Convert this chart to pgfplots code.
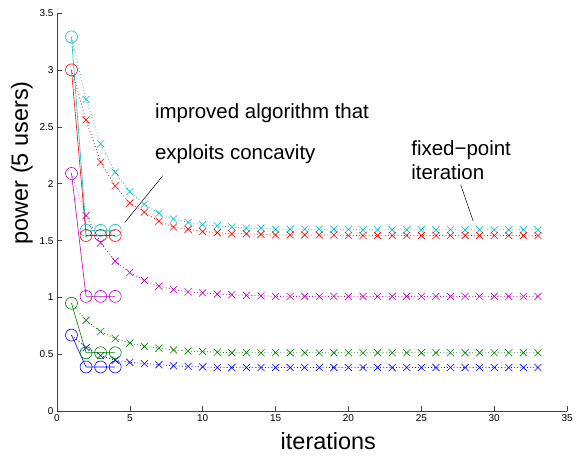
\documentclass[border=0pt]{standalone}
\usepackage{fontspec}
\setmainfont{Liberation Sans}
\usepackage{pgfplots}
\pgfplotsset{compat=1.18}
\definecolor{mcyan}{rgb}{0,0.75,0.75}
\definecolor{mred}{rgb}{1,0,0}
\definecolor{mmag}{rgb}{0.75,0,0.75}
\definecolor{mgreen}{rgb}{0,0.5,0}
\definecolor{mblue}{rgb}{0,0,1}
\begin{document}
\begin{tikzpicture}
\begin{axis}[
  scale only axis, width=511pt, height=399pt,
  xmin=0, xmax=35, ymin=0, ymax=3.5,
  xtick={0,5,...,35}, ytick={0,0.5,...,3.5},
  axis lines=left, axis line style={-, black!75, line width=0.6pt},
  tick align=inside, major tick length=5pt, tick style={black!75, line width=0.5pt},
  /pgf/number format/assume math mode=true,
  tick label style={font=\fontsize{10}{11}\selectfont},
  xlabel={iterations}, ylabel={power (5 users)},
  label style={font=\fontsize{23.5}{25}\selectfont},
  xlabel style={at={(ticklabel cs:0.532)}, yshift=-4pt},
  ylabel style={at={(ticklabel cs:0.624)}, yshift=0pt},
  clip=false,
  fp/.style={#1, dash pattern=on 0.8pt off 2.4pt, line width=0.8pt, mark=x, mark size=5pt, mark options={solid, line width=0.6pt}, mark indices={2,...,33}},
  ia/.style={#1, line width=0.6pt, mark=o, mark size=6pt},
]
\path ([xshift=-57pt,yshift=-45pt]rel axis cs:0,0) rectangle ([xshift=8pt,yshift=13pt]rel axis cs:1,1);
% fixed-point iteration (dotted, crosses)
\addplot[fp=mcyan] coordinates {
(1,3.29)(2,2.74)(3,2.35)(4,2.10)(5,1.93)(6,1.82)(7,1.74)(8,1.69)(9,1.66)(10,1.64)(11,1.63)(12,1.62)(13,1.61)(14,1.61)(15,1.60)(16,1.60)(17,1.60)(18,1.60)(19,1.60)(20,1.60)(21,1.595)(22,1.595)(23,1.595)(24,1.595)(25,1.595)(26,1.595)(27,1.595)(28,1.595)(29,1.595)(30,1.595)(31,1.595)(32,1.595)(33,1.595)};
\addplot[fp=mred] coordinates {
(1,3.00)(2,2.56)(3,2.19)(4,1.98)(5,1.83)(6,1.75)(7,1.67)(8,1.62)(9,1.60)(10,1.58)(11,1.57)(12,1.56)(13,1.56)(14,1.555)(15,1.55)(16,1.55)(17,1.55)(18,1.55)(19,1.55)(20,1.545)(21,1.545)(22,1.545)(23,1.545)(24,1.545)(25,1.545)(26,1.545)(27,1.545)(28,1.545)(29,1.545)(30,1.545)(31,1.545)(32,1.545)(33,1.545)};
\addplot[fp=mmag] coordinates {
(1,2.09)(2,1.72)(3,1.48)(4,1.32)(5,1.22)(6,1.15)(7,1.10)(8,1.07)(9,1.05)(10,1.04)(11,1.03)(12,1.025)(13,1.02)(14,1.015)(15,1.01)(16,1.01)(17,1.01)(18,1.01)(19,1.01)(20,1.01)(21,1.01)(22,1.01)(23,1.01)(24,1.01)(25,1.01)(26,1.01)(27,1.01)(28,1.01)(29,1.01)(30,1.01)(31,1.01)(32,1.01)(33,1.01)};
\addplot[fp=mgreen] coordinates {
(1,0.95)(2,0.80)(3,0.70)(4,0.64)(5,0.60)(6,0.57)(7,0.555)(8,0.54)(9,0.53)(10,0.525)(11,0.52)(12,0.515)(13,0.515)(14,0.515)(15,0.515)(16,0.515)(17,0.515)(18,0.515)(19,0.515)(20,0.515)(21,0.515)(22,0.515)(23,0.515)(24,0.515)(25,0.515)(26,0.515)(27,0.515)(28,0.515)(29,0.515)(30,0.515)(31,0.515)(32,0.515)(33,0.515)};
\addplot[fp=mblue] coordinates {
(1,0.67)(2,0.56)(3,0.49)(4,0.45)(5,0.43)(6,0.42)(7,0.41)(8,0.40)(9,0.395)(10,0.39)(11,0.385)(12,0.385)(13,0.385)(14,0.385)(15,0.385)(16,0.385)(17,0.385)(18,0.385)(19,0.385)(20,0.385)(21,0.385)(22,0.385)(23,0.385)(24,0.385)(25,0.385)(26,0.385)(27,0.385)(28,0.385)(29,0.385)(30,0.385)(31,0.385)(32,0.385)(33,0.385)};
% improved algorithm (solid, circles)
\addplot[ia=mcyan] coordinates {(1,3.29)(2,1.59)(3,1.59)(4,1.59)};
\addplot[ia=mred] coordinates {(1,3.00)(2,1.545)(3,1.545)(4,1.545)};
\addplot[ia=mmag] coordinates {(1,2.09)(2,1.01)(3,1.01)(4,1.01)};
\addplot[ia=mgreen] coordinates {(1,0.95)(2,0.515)(3,0.515)(4,0.515)};
\addplot[ia=mblue] coordinates {(1,0.67)(2,0.39)(3,0.39)(4,0.39)};
% annotations
\draw[black, line width=0.5pt] (axis cs:4.66,1.66) -- (axis cs:7.26,2.07);
\draw[black, line width=0.5pt] (axis cs:27.7,1.99) -- (axis cs:28.56,1.67);
\node[anchor=base west, inner sep=0pt, font=\fontsize{20.5}{22}\selectfont] at (axis cs:6.72,2.57) {improved algorithm that};
\node[anchor=base west, inner sep=0pt, font=\fontsize{20.5}{22}\selectfont] at (axis cs:6.72,2.215) {exploits concavity};
\node[anchor=base west, inner sep=0pt, font=\fontsize{20.5}{22}\selectfont] at (axis cs:24.3,2.25) {fixed−point};
\node[anchor=base west, inner sep=0pt, font=\fontsize{20.5}{22}\selectfont] at (axis cs:24.3,2.04) {iteration};
\end{axis}
\end{tikzpicture}
\end{document}
